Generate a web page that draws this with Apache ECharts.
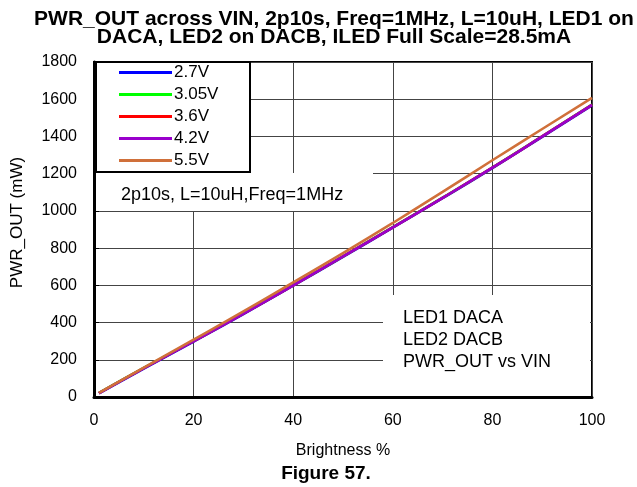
<!DOCTYPE html>
<html>
<head>
<meta charset="utf-8">
<script src="https://cdn.jsdelivr.net/npm/echarts@6/dist/echarts.min.js"></script>
<style>html,body{margin:0;padding:0;background:#fff}#c{width:637px;height:487px}</style>
</head>
<body>
<div id="c"></div>
<script>
var brightness = [1, 10, 20, 30, 40, 50, 60, 70, 80, 90, 100];
var v27  = [19, 153, 298, 446, 598, 753, 910, 1068, 1230, 1398, 1567];
var v305 = [22, 156, 301, 449, 601, 756, 913, 1071, 1233, 1401, 1571];
var v36  = [21, 155, 300, 448, 600, 755, 912, 1070, 1232, 1400, 1570];
var v42  = [21, 155, 300, 448, 600, 755, 912, 1070, 1232, 1400, 1570];
var v55  = [22, 158, 308, 460, 616, 773, 935, 1102, 1272, 1440, 1607];
var seriesNames = ['2.7V', '3.05V', '3.6V', '4.2V', '5.5V'];
var seriesColors = ['#0000FF', '#00FF00', '#FF0000', '#9900CC', '#D0703A'];
var seriesValues = [v27, v305, v36, v42, v55];

var FONT = 'Arial, "Liberation Sans", sans-serif';
var chart = echarts.init(document.getElementById('c'), null, {renderer: 'canvas'});

function pairs(vals) { return brightness.map(function (b, i) { return [b, vals[i]]; }); }

var series = seriesNames.map(function (n, i) {
  return {
    name: n, type: 'line', data: pairs(seriesValues[i]), showSymbol: false, smooth: true,
    lineStyle: {color: seriesColors[i], width: 2.6}, itemStyle: {color: seriesColors[i]}, z: 3 + i
  };
});

chart.setOption({
  animation: false,
  backgroundColor: '#fff',
  title: {
    text: 'PWR_OUT across VIN, 2p10s, Freq=1MHz, L=10uH, LED1 on\nDACA, LED2 on DACB, ILED Full Scale=28.5mA',
    left: 329, textAlign: 'center', top: 5,
    textStyle: {fontFamily: FONT, fontWeight: 'bold', fontSize: 21, lineHeight: 18, color: '#000'}
  },
  grid: {left: 94, right: 45, top: 62, bottom: 90, show: true, borderColor: '#000', borderWidth: 2},
  legend: {
    orient: 'vertical', left: 119, top: 64, padding: 0, itemWidth: 53, itemHeight: 3, itemGap: 5,
    icon: 'rect', data: seriesNames,
    textStyle: {fontFamily: FONT, fontSize: 17, color: '#000', lineHeight: 17, padding: [0, 0, 0, -3]}
  },
  xAxis: {
    type: 'value', min: 0, max: 100, interval: 20,
    name: 'Brightness %', nameLocation: 'middle', nameGap: 46,
    nameTextStyle: {fontFamily: FONT, fontSize: 16, color: '#000'},
    axisLine: {show: true, lineStyle: {color: '#000', width: 3}},
    axisTick: {show: false},
    axisLabel: {fontFamily: FONT, fontSize: 16, color: '#000', margin: 16},
    splitLine: {show: true, lineStyle: {color: '#444', width: 1}}
  },
  yAxis: {
    type: 'value', min: 0, max: 1800, interval: 200,
    name: 'PWR_OUT (mW)', nameLocation: 'middle', nameGap: 68, nameRotate: 90,
    nameTextStyle: {fontFamily: FONT, fontSize: 17, color: '#000', padding: [0, 0, 0, 14]},
    axisLine: {show: true, lineStyle: {color: '#000', width: 3}},
    axisTick: {show: true, inside: true, length: 5, lineStyle: {color: '#000'}},
    axisLabel: {fontFamily: FONT, fontSize: 16, color: '#000', margin: 17, formatter: function (v) { return String(v); }},
    splitLine: {show: true, lineStyle: {color: '#444', width: 1}}
  },
  graphic: [
    {type: 'rect', z: 1, shape: {x: 96, y: 62, width: 154, height: 110}, style: {fill: '#fff', stroke: '#000', lineWidth: 2}},
    {type: 'rect', z: 1, shape: {x: 96, y: 173, width: 277, height: 38}, style: {fill: '#fff'}},
    {type: 'text', z: 2, style: {x: 121, y: 195, text: '2p10s, L=10uH,Freq=1MHz', font: '18px ' + FONT, fill: '#000', textVerticalAlign: 'middle'}},
    {type: 'rect', z: 1, shape: {x: 383, y: 295, width: 207, height: 101}, style: {fill: '#fff'}},
    {type: 'text', z: 2, style: {x: 403, y: 307, text: 'LED1 DACA\nLED2 DACB\nPWR_OUT vs VIN', font: '18px ' + FONT, fill: '#000', lineHeight: 22}},
    {type: 'text', z: 2, style: {x: 326, y: 474, text: 'Figure 57.', font: 'bold 19px ' + FONT, fill: '#000', textAlign: 'center', textVerticalAlign: 'middle'}}
  ],
  series: series
});
</script>
</body>
</html>
